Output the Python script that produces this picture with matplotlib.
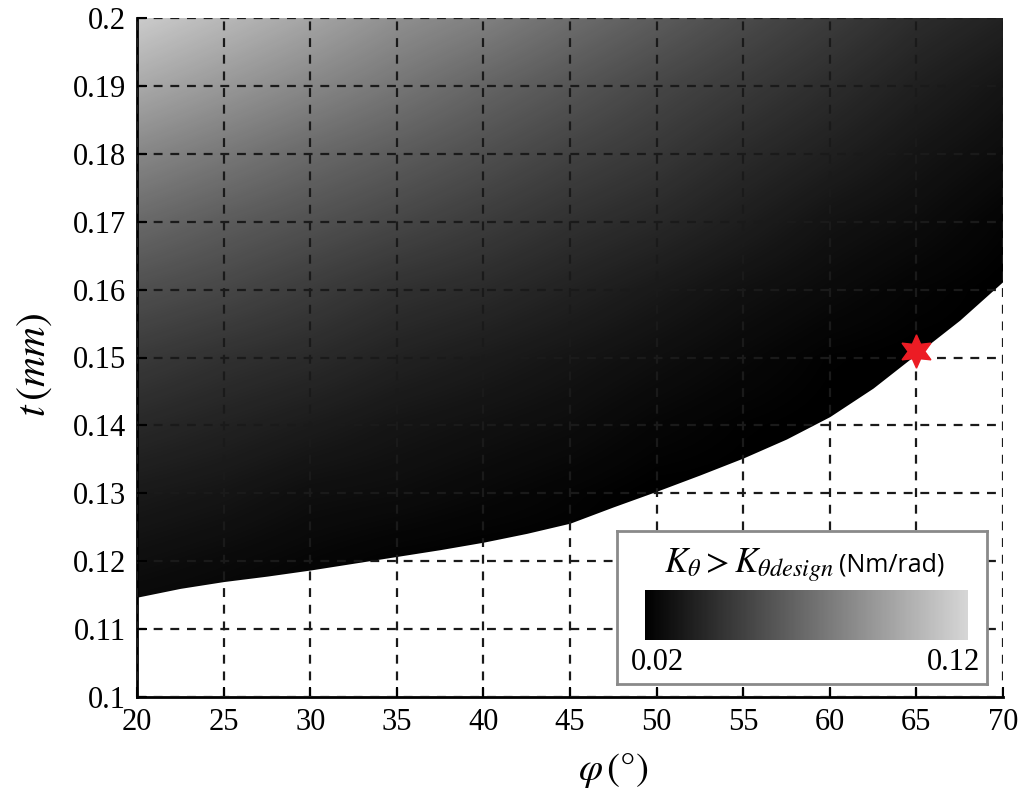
import matplotlib
matplotlib.use('Agg')
import matplotlib.pyplot as plt
import numpy as np
from matplotlib.colors import LinearSegmentedColormap

plt.rcParams['mathtext.fontset'] = 'stix'

# grid of phi (deg) and t (mm)
phi = [20, 25, 30, 35, 40, 45, 50, 55, 60, 65, 70]
t = [0.10, 0.11, 0.12, 0.13, 0.14, 0.15, 0.16, 0.17, 0.18, 0.19, 0.20]

K = [
    [0.020, 0.020, 0.020, 0.020, 0.020, 0.020, 0.020, 0.020, 0.020, 0.020, 0.020],
    [0.022, 0.021, 0.020, 0.020, 0.020, 0.020, 0.020, 0.020, 0.020, 0.020, 0.020],
    [0.027, 0.025, 0.023, 0.021, 0.020, 0.020, 0.020, 0.020, 0.020, 0.020, 0.020],
    [0.032, 0.030, 0.027, 0.026, 0.024, 0.022, 0.020, 0.020, 0.020, 0.020, 0.020],
    [0.039, 0.036, 0.033, 0.030, 0.028, 0.026, 0.023, 0.021, 0.020, 0.020, 0.020],
    [0.047, 0.043, 0.040, 0.036, 0.033, 0.030, 0.027, 0.024, 0.021, 0.020, 0.020],
    [0.057, 0.053, 0.048, 0.043, 0.040, 0.036, 0.032, 0.028, 0.025, 0.022, 0.020],
    [0.069, 0.063, 0.058, 0.053, 0.048, 0.043, 0.039, 0.034, 0.029, 0.026, 0.022],
    [0.083, 0.076, 0.069, 0.063, 0.057, 0.051, 0.046, 0.040, 0.035, 0.030, 0.026],
    [0.099, 0.091, 0.083, 0.075, 0.067, 0.060, 0.053, 0.047, 0.041, 0.035, 0.030],
    [0.115, 0.106, 0.097, 0.087, 0.080, 0.071, 0.063, 0.055, 0.048, 0.041, 0.036],
]

# t where K_theta = K_theta_design, below it the design is not met
phi_limit = [20, 22.5, 25, 27.5, 30, 32.5, 35, 37.5, 40, 42.5, 45, 47.5, 50,
             52.5, 55, 57.5, 60, 62.5, 65, 67.5, 70]
t_limit = [0.1147, 0.116, 0.117, 0.1178, 0.1187, 0.1197, 0.1207, 0.1217, 0.1228, 0.1241, 0.1256,
           0.128, 0.1303, 0.1327, 0.1352, 0.138, 0.1413, 0.1455, 0.1505, 0.1555, 0.1612]

# chosen design point
phi_design = 65
t_design = 0.151

cmap = LinearSegmentedColormap.from_list('k_gray', ['#000000', '#d6d6d6'])

fig = plt.figure(figsize=(10.24, 8), dpi=100)
ax = fig.add_axes([137 / 1024, 1 - 697 / 800, (1003 - 137) / 1024, (697 - 18) / 800])

img = ax.imshow(np.array(K), cmap=cmap, vmin=0.02, vmax=0.12, origin='lower',
                extent=[17.5, 72.5, 0.095, 0.205], interpolation='bilinear',
                aspect='auto', zorder=1)
ax.fill_between(phi_limit, t_limit, 0.1, color='white', lw=0, zorder=2)

ax.set_xlim(20, 70)
ax.set_ylim(0.1, 0.2)
ax.set_xticks(phi)
ax.set_yticks(t)
ax.set_yticklabels(['0.1', '0.11', '0.12', '0.13', '0.14', '0.15', '0.16', '0.17', '0.18', '0.19', '0.2'])
ax.grid(True, color='#1a1a1a', linestyle=(0, (4, 3.5)), linewidth=1.6, zorder=3)
ax.set_axisbelow(False)
ax.tick_params(direction='in', length=7, width=1.5, labelsize=22, pad=8)
for lab in ax.get_xticklabels() + ax.get_yticklabels():
    lab.set_family('Liberation Serif')
ax.spines['top'].set_visible(False)
ax.spines['right'].set_visible(False)
ax.spines['left'].set_linewidth(2)
ax.spines['bottom'].set_linewidth(2)

ax.plot(phi_design, t_design, marker=(6, 1, 0), markersize=24, color='#ec1c24',
        markeredgecolor='#ec1c24', zorder=5, clip_on=False)

ax.set_xlabel(r'$\varphi\,(\degree)$', fontsize=28)
ax.xaxis.set_label_coords((613 - 137) / (1003 - 137), -(770 - 697) / (697 - 18))
ax.xaxis.label.set_va('center')
ax.set_ylabel(r'$t\,(mm)$', fontsize=30)
ax.yaxis.set_label_coords(-(137 - 33) / (1003 - 137), (697 - 365) / (697 - 18))
ax.yaxis.label.set_va('center')

# colour bar box
box = fig.add_axes([617 / 1024, 1 - 684 / 800, (987 - 617) / 1024, (684 - 531) / 800])
box.set_xticks([])
box.set_yticks([])
for s in box.spines.values():
    s.set_color('#8a8a8a')
    s.set_linewidth(2)
box.set_zorder(6)

cax = fig.add_axes([645 / 1024, 1 - 640 / 800, (968 - 645) / 1024, 50 / 800])
cax.set_zorder(7)
cb = fig.colorbar(img, cax=cax, orientation='horizontal', ticks=[])
cb.outline.set_visible(False)

fig.text(834 / 1024, 1 - 565 / 800, r'$K_\theta > K_{\theta design}$', fontsize=25,
         ha='right', va='center', zorder=8)
fig.text(839 / 1024, 1 - 565 / 800, '(Nm/rad)', fontsize=18,
         family='Open Sans', ha='left', va='center', zorder=8)
fig.text(657 / 1024, 1 - 662 / 800, '0.02', fontsize=22, family='Liberation Serif',
         ha='center', va='center', zorder=8)
fig.text(953 / 1024, 1 - 662 / 800, '0.12', fontsize=22, family='Liberation Serif',
         ha='center', va='center', zorder=8)

fig.savefig('out.png', dpi=100)
